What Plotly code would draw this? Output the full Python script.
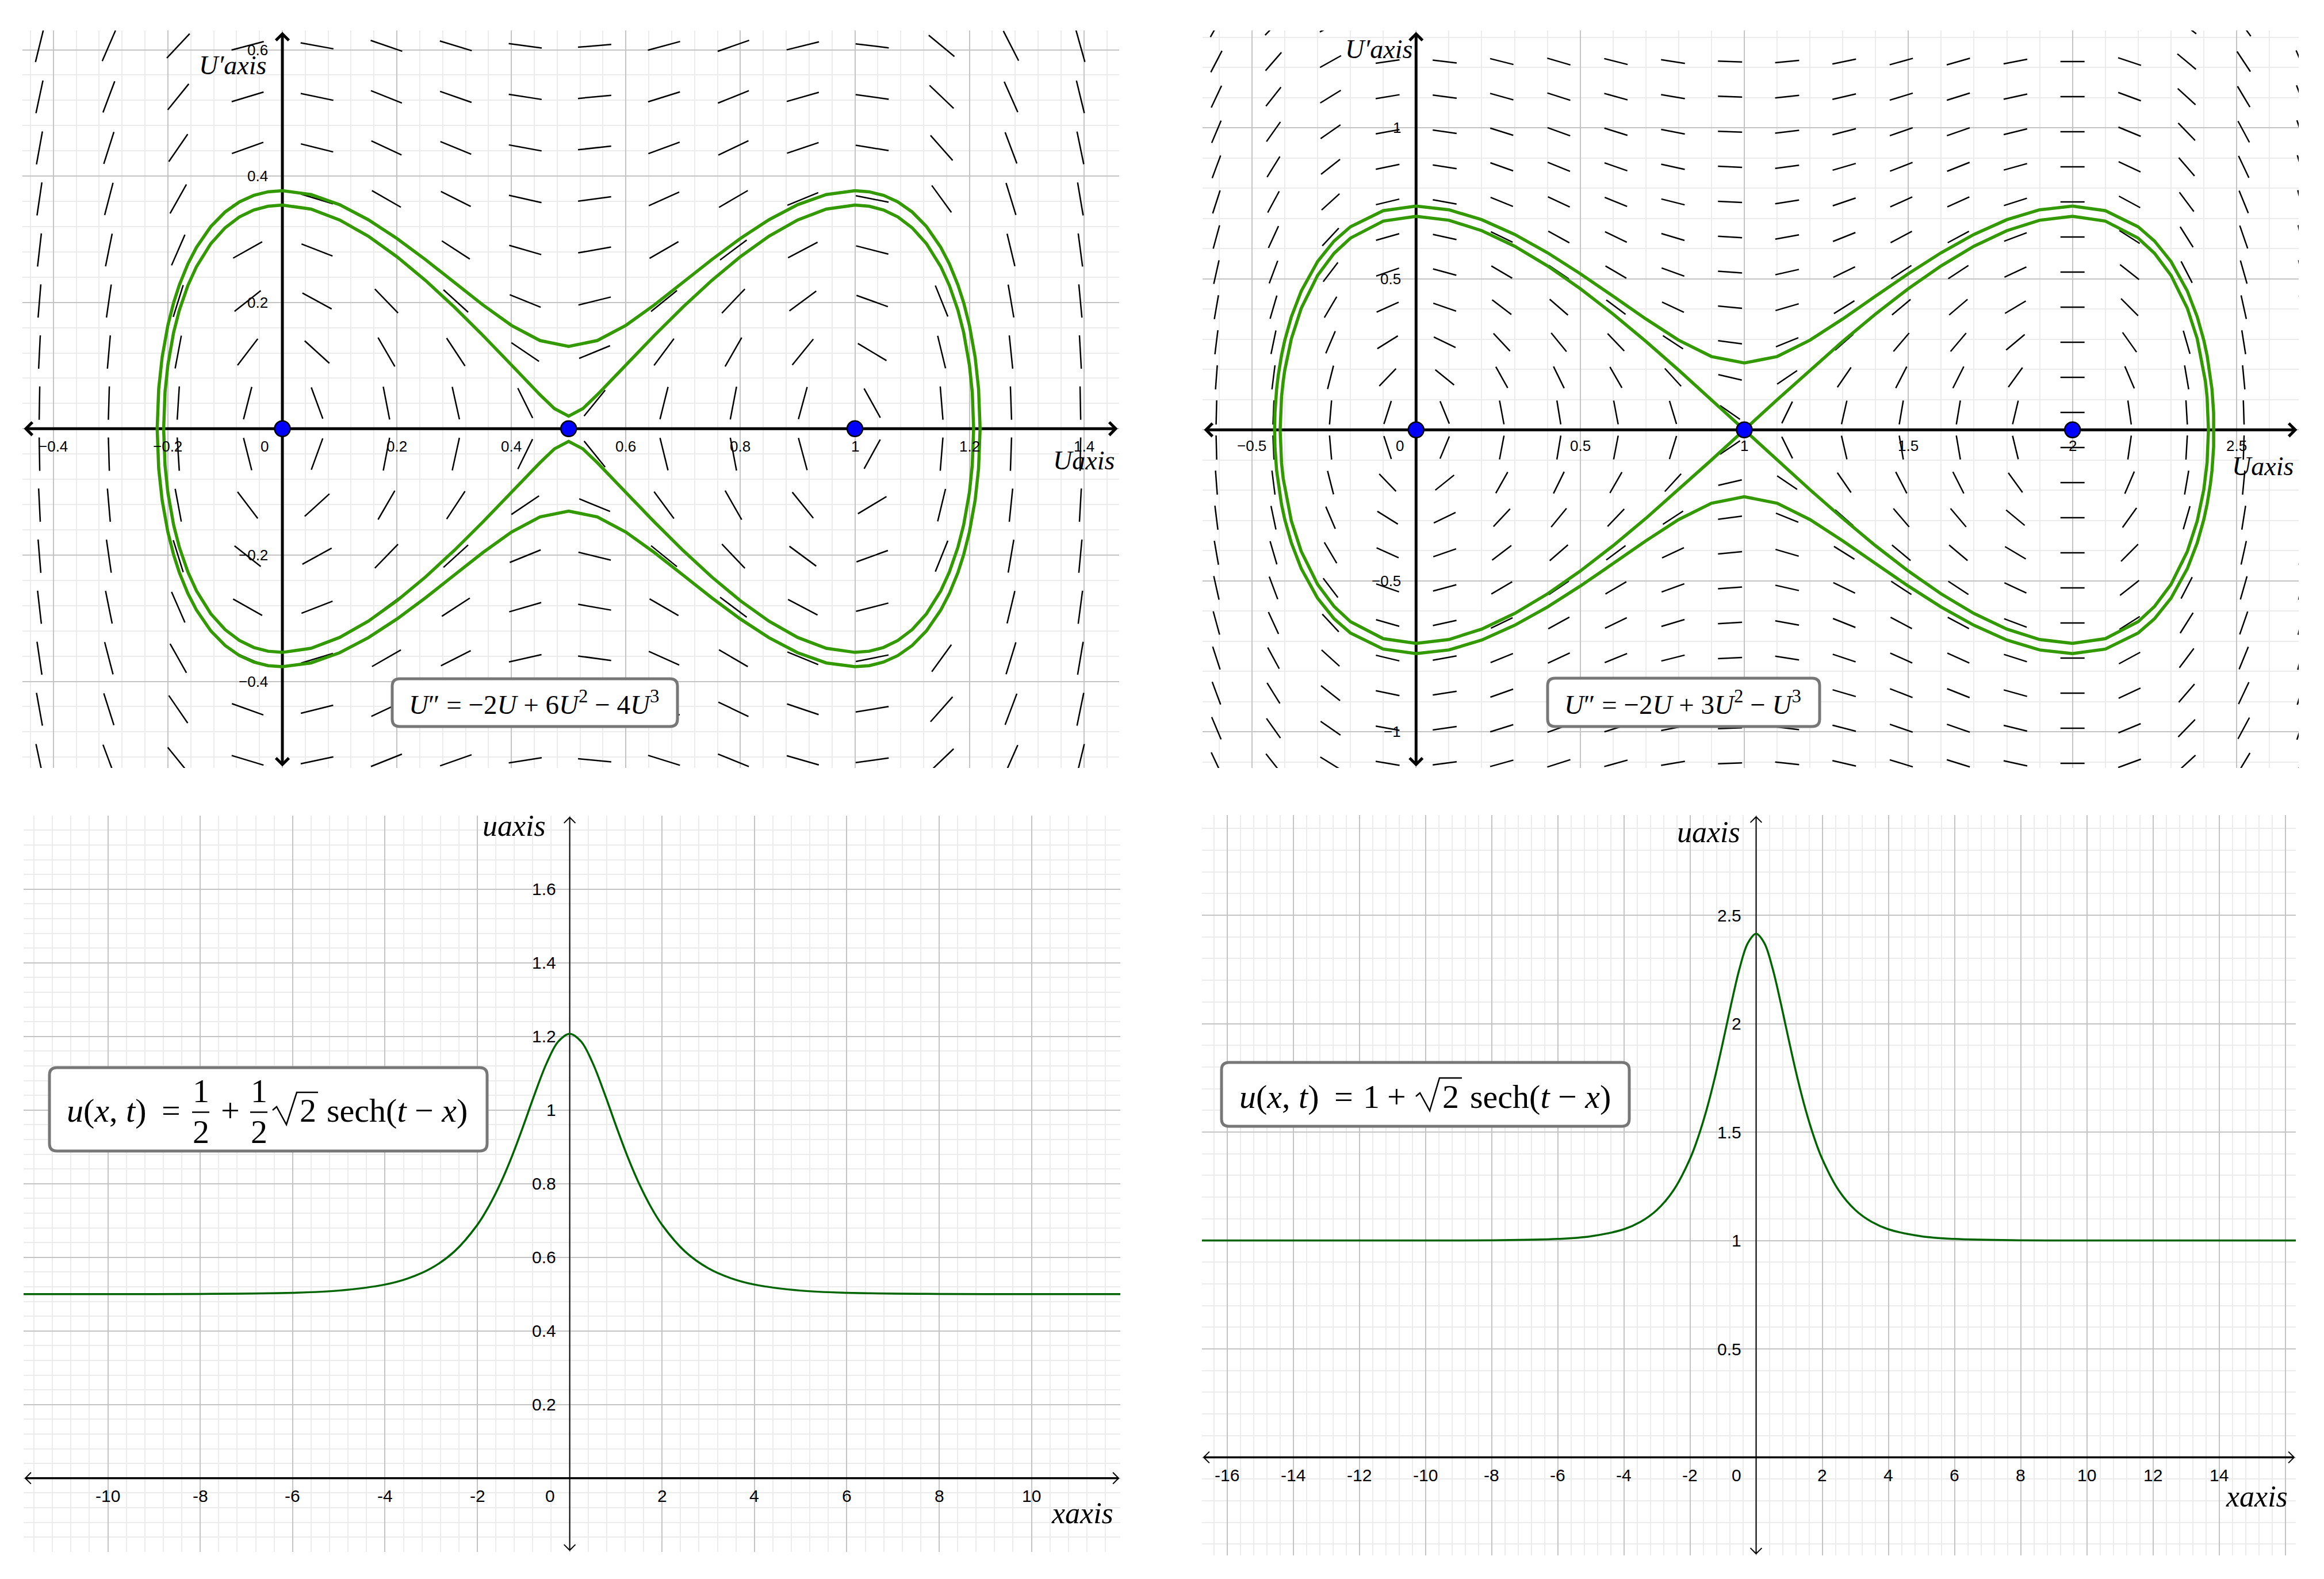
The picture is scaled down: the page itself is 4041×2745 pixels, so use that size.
import math
import plotly.graph_objects as go

W, H = 4041, 2745

# ---------------- data ----------------
# top-left phase plane, U'' = -2U + 6U^2 - 4U^3 (coefficients of U, U^2, U^3)
tl_coeffs = [-2, 6, -4]
tl_rest_u = [0, 0.5, 1]
# upper half of the left lobe (U <= 0.5); the right lobe is its mirror about U = 0.5
tl_outer_u = [-0.2187, -0.216, -0.21, -0.2, -0.19, -0.18, -0.165, -0.15, -0.125, -0.1, -0.075,
              -0.05, -0.025, 0, 0.05, 0.1, 0.15, 0.2, 0.25, 0.3, 0.35, 0.4, 0.45, 0.5]
tl_outer_v = [0, 0.0634, 0.1134, 0.1637, 0.1994, 0.2276, 0.261, 0.2872, 0.3201, 0.3432, 0.3592,
              0.3695, 0.3751, 0.3768, 0.3708, 0.3547, 0.3309, 0.3013, 0.2677, 0.2319, 0.1962,
              0.1637, 0.1396, 0.1304]
tl_inner_u = [-0.2074, -0.205, -0.2, -0.19, -0.18, -0.165, -0.15, -0.125, -0.1, -0.075, -0.05,
              -0.025, 0, 0.05, 0.1, 0.15, 0.2, 0.25, 0.3, 0.35, 0.4, 0.425, 0.45, 0.475, 0.5]
tl_inner_v = [0, 0.058, 0.101, 0.1522, 0.1876, 0.2269, 0.2567, 0.293, 0.3181, 0.3353, 0.3463,
              0.3523, 0.3541, 0.3477, 0.3305, 0.3048, 0.2724, 0.2347, 0.1929, 0.1479, 0.101,
              0.0772, 0.0537, 0.032, 0.02]

# top-right phase plane, U'' = -2U + 3U^2 - U^3
tr_coeffs = [-2, 3, -1]
tr_rest_u = [0, 1, 2]
# upper half of the left lobe (U <= 1); mirrored about U = 1
tr_outer_u = [-0.4311, -0.43, -0.425, -0.42, -0.41, -0.4, -0.38, -0.35, -0.3, -0.25, -0.2, -0.1,
              0, 0.1, 0.2, 0.3, 0.4, 0.5, 0.6, 0.7, 0.8, 0.9, 1.0]
tr_outer_v = [0, 0.0556, 0.1342, 0.1802, 0.2466, 0.297, 0.3742, 0.4591, 0.5576, 0.6251, 0.6725,
              0.7259, 0.741, 0.7287, 0.6959, 0.6473, 0.5867, 0.5174, 0.4429, 0.3674, 0.297,
              0.2428, 0.2214]
tr_sep_u = [-0.4142, -0.41, -0.405, -0.4, -0.38, -0.35, -0.3, -0.25, -0.2, -0.1, 0, 0.1, 0.2,
            0.3, 0.4, 0.5, 0.6, 0.7, 0.8, 0.9, 1.0]
tr_sep_v = [0, 0.1088, 0.1602, 0.198, 0.3017, 0.4022, 0.5118, 0.5846, 0.635, 0.6913, 0.7071,
            0.6942, 0.6597, 0.6082, 0.5433, 0.4677, 0.3837, 0.2932, 0.198, 0.0997, 0]

# bottom-left solitary wave
bl_x = [-12, -10, -8, -6, -5, -4, -3.5, -3, -2.5, -2, -1.75, -1.5, -1.25, -1, -0.75, -0.5, -0.25,
        0, 0.25, 0.5, 0.75, 1, 1.25, 1.5, 1.75, 2, 2.5, 3, 3.5, 4, 5, 6, 8, 10, 12]
bl_u = [0.5, 0.5001, 0.5005, 0.5035, 0.5095, 0.5259, 0.5427, 0.5702, 0.6153, 0.688, 0.7386,
        0.8006, 0.8744, 0.9582, 1.0462, 1.1271, 1.1856, 1.2071, 1.1856, 1.1271, 1.0462, 0.9582,
        0.8744, 0.8006, 0.7386, 0.688, 0.6153, 0.5702, 0.5427, 0.5259, 0.5095, 0.5035, 0.5005,
        0.5001, 0.5]

# bottom-right solitary wave
br_x = [-17, -12, -10, -8, -6, -5, -4, -3.5, -3, -2.5, -2, -1.75, -1.5, -1.25, -1, -0.75, -0.5,
        -0.25, 0, 0.25, 0.5, 0.75, 1, 1.25, 1.5, 1.75, 2, 2.5, 3, 3.5, 4, 5, 6, 8, 10, 12, 17]
br_u = [1.0, 1.0, 1.0001, 1.0009, 1.007, 1.0191, 1.0518, 1.0853, 1.1405, 1.2306, 1.3759, 1.4771,
        1.6012, 1.7489, 1.9165, 2.0923, 2.2542, 2.3712, 2.4142, 2.3712, 2.2542, 2.0923, 1.9165,
        1.7489, 1.6012, 1.4771, 1.3759, 1.2306, 1.1405, 1.0853, 1.0518, 1.0191, 1.007, 1.0009,
        1.0001, 1.0, 1.0]

# tick labels
tl_xticks = [-0.4, -0.2, 0.2, 0.4, 0.6, 0.8, 1, 1.2, 1.4]
tl_xlabels = ['−0.4', '−0.2', '0.2', '0.4', '0.6', '0.8', '1', '1.2', '1.4']
tl_yticks = [0.6, 0.4, 0.2, -0.2, -0.4]
tl_ylabels = ['0.6', '0.4', '0.2', '−0.2', '−0.4']
tr_xticks = [-0.5, 0.5, 1, 1.5, 2, 2.5]
tr_xlabels = ['−0.5', '0.5', '1', '1.5', '2', '2.5']
tr_yticks = [1, 0.5, -0.5, -1]
tr_ylabels = ['1', '0.5', '−0.5', '−1']
bl_xticks = [-10, -8, -6, -4, -2, 2, 4, 6, 8, 10]
bl_xlabels = ['-10', '-8', '-6', '-4', '-2', '2', '4', '6', '8', '10']
bl_yticks = [0.2, 0.4, 0.6, 0.8, 1, 1.2, 1.4, 1.6]
bl_ylabels = ['0.2', '0.4', '0.6', '0.8', '1', '1.2', '1.4', '1.6']
br_xticks = [-16, -14, -12, -10, -8, -6, -4, -2, 2, 4, 6, 8, 10, 12, 14]
br_xlabels = ['-16', '-14', '-12', '-10', '-8', '-6', '-4', '-2', '2', '4', '6', '8', '10', '12', '14']
br_yticks = [0.5, 1, 1.5, 2, 2.5]
br_ylabels = ['0.5', '1', '1.5', '2', '2.5']

# ---------------- layout of the four panels (page pixels) ----------------
panels = [
    dict(box=(31, 45, 1938, 1327), origin=(483, 737.3), unit=(995.5, 1098),
         grid=(0.2, 0.04, 0.2, 0.04)),
    dict(box=(2083, 45, 3989, 1327), origin=(2454.3, 739.3), unit=(570.7, 525),
         grid=(0.5, 0.1, 0.5, 0.1)),
    dict(box=(33, 1410, 1940, 2690), origin=(982.6, 2561.7), unit=(80.3, 640),
         grid=(2, 0.4, 0.2, 0.04)),
    dict(box=(2082, 1409, 3984, 2696), origin=(3045.5, 2525.5), unit=(57.5, 377),
         grid=(2, 0.4, 0.5, 0.1)),
]

MAJOR = '#c4c4c4'
MINOR = '#ececec'
LOOP_GREEN = '#339900'
WAVE_GREEN = '#006400'
SANS = 'Liberation Sans'
SERIF = 'Liberation Serif'

fig = go.Figure()
annotations = []
shapes = []

for i, p in enumerate(panels):
    sfx = '' if i == 0 else str(i + 1)
    x0, y0, x1, y1 = p['box']
    ox, oy = p['origin']
    ux, uy = p['unit']
    p['xr'] = [(x0 - ox) / ux, (x1 - ox) / ux]
    p['yr'] = [(oy - y1) / uy, (oy - y0) / uy]
    p['xa'], p['ya'] = 'x' + sfx, 'y' + sfx
    xmaj, xmin, ymaj, ymin = p['grid']
    common = dict(showgrid=True, gridcolor=MAJOR, gridwidth=2, tick0=0,
                  showticklabels=False, ticks='', zeroline=False, showline=False,
                  fixedrange=True)
    fig.update_layout({
        'xaxis' + sfx: dict(domain=[x0 / W, x1 / W], range=p['xr'], anchor='y' + sfx,
                            dtick=xmaj, minor=dict(dtick=xmin, tick0=0, showgrid=True,
                                                   gridcolor=MINOR, gridwidth=2), **common),
        'yaxis' + sfx: dict(domain=[1 - y1 / H, 1 - y0 / H], range=p['yr'], anchor='x' + sfx,
                            dtick=ymaj, minor=dict(dtick=ymin, tick0=0, showgrid=True,
                                                   gridcolor=MINOR, gridwidth=2), **common),
    })


def add_line(p, xs, ys, color='black', width=2.5):
    fig.add_trace(go.Scatter(x=xs, y=ys, mode='lines', xaxis=p['xa'], yaxis=p['ya'],
                             line=dict(color=color, width=width), hoverinfo='skip'))


def slope_field(p, coeffs, u0, du, ncol, v0, dv, nrow, seg):
    # short segments along (U', U'') for the equation printed in the panel
    ux, uy = p['unit']
    xs, ys = [], []
    for i in range(ncol):
        u = u0 + i * du
        g = coeffs[0] * u + coeffs[1] * u ** 2 + coeffs[2] * u ** 3
        for j in range(nrow):
            v = v0 - j * dv
            sx, sy = v * ux, g * uy
            n = math.hypot(sx, sy)
            hx = sx / n * seg / 2 / ux
            hy = sy / n * seg / 2 / uy
            xs += [u - hx, u + hx, None]
            ys += [v - hy, v + hy, None]
    add_line(p, xs, ys, width=2.5)


def chevron(p, tx, ty, dx, dy, arm, width):
    ux, uy = p['unit']
    a = arm / math.sqrt(2)
    xs, ys = [], []
    for s in (1, -1):
        bx, by = -dx - s * dy, -dy + s * dx
        xs.append(tx + a * bx / ux)
        ys.append(ty + a * by / uy)
    add_line(p, [xs[0], tx, xs[1]], [ys[0], ty, ys[1]], width=width)


def axes(p, xw, yw, arm, aw, inset):
    ux, uy = p['unit']
    xl, xh = p['xr'][0] + inset / ux, p['xr'][1] - inset / ux
    yl, yh = p['yr'][0] + inset / uy, p['yr'][1] - inset / uy
    add_line(p, [xl, xh], [0, 0], width=xw)
    add_line(p, [0, 0], [yl, yh], width=yw)
    chevron(p, xl, 0, -1, 0, arm, aw)
    chevron(p, xh, 0, 1, 0, arm, aw)
    chevron(p, 0, yl, 0, -1, arm, aw)
    chevron(p, 0, yh, 0, 1, arm, aw)


def loop(us, vs, c):
    ru = [2 * c - u for u in reversed(us[:-1])]
    rv = list(reversed(vs[:-1]))
    up_u, up_v = us + ru, vs + rv
    return up_u + list(reversed(up_u))[1:], up_v + [-v for v in reversed(up_v)][1:]


def ticks(p, xv, xt, yv, yt, size, xshift_y, yshift_x, zero_shift):
    f = dict(family=SANS, size=size, color='black')
    for v, t in zip(xv, xt):
        annotations.append(dict(x=v, y=0, xref=p['xa'], yref=p['ya'], text=t, showarrow=False,
                                yshift=xshift_y, font=f))
    annotations.append(dict(x=0, y=0, xref=p['xa'], yref=p['ya'], text='0', showarrow=False,
                            xshift=zero_shift, yshift=xshift_y, font=f))
    for v, t in zip(yv, yt):
        annotations.append(dict(x=0, y=v, xref=p['xa'], yref=p['ya'], text=t, showarrow=False,
                                xanchor='right', xshift=yshift_x, font=f))


def page_text(text, x, y, size, xanchor='center'):
    annotations.append(dict(x=x / W, y=1 - y / H, xref='paper', yref='paper', text=text,
                            showarrow=False, xanchor=xanchor, yanchor='middle',
                            font=dict(family=SERIF, size=size, color='black')))


def P(x, y):
    return f'{x / W:.6f},{1 - y / H:.6f}'


def rounded_box(x0, y0, x1, y1, r=13):
    path = (f'M{P(x0 + r, y0)} L{P(x1 - r, y0)} Q{P(x1, y0)} {P(x1, y0 + r)} '
            f'L{P(x1, y1 - r)} Q{P(x1, y1)} {P(x1 - r, y1)} L{P(x0 + r, y1)} '
            f'Q{P(x0, y1)} {P(x0, y1 - r)} L{P(x0, y0 + r)} Q{P(x0, y0)} {P(x0 + r, y0)} Z')
    shapes.append(dict(type='path', path=path, xref='paper', yref='paper', layer='above',
                       fillcolor='white', line=dict(color='#777777', width=5)))


def page_poly(pts, width=2.5):
    path = 'M' + ' L'.join(P(x, y) for x, y in pts)
    shapes.append(dict(type='path', path=path, xref='paper', yref='paper', layer='above',
                       line=dict(color='black', width=width)))


tl, tr, bl, br = panels

# ---------- top-left ----------
slope_field(tl, tl_coeffs, -0.4243, 0.12121, 16, 0.6062, 0.0808, 15, 58)
axes(tl, 5, 5, 16, 5, 6)
for us, vs in [(tl_outer_u, tl_outer_v), (tl_inner_u, tl_inner_v)]:
    lx, ly = loop(us, vs, 0.5)
    add_line(tl, lx, ly, color=LOOP_GREEN, width=5.5)
fig.add_trace(go.Scatter(x=tl_rest_u, y=[0] * len(tl_rest_u), mode='markers', xaxis='x', yaxis='y',
                         marker=dict(size=27, color='#0000ff', line=dict(color='black', width=2.5)),
                         hoverinfo='skip'))
ticks(tl, tl_xticks, tl_xlabels, tl_yticks, tl_ylabels, 26, -31, -23, -31)

# ---------- top-right ----------
slope_field(tr, tr_coeffs, -0.6084, 0.17389, 20, 1.3358, 0.11619, 22, 42)
axes(tr, 5, 5, 16, 5, 6)
for us, vs in [(tr_outer_u, tr_outer_v), (tr_sep_u, tr_sep_v)]:
    lx, ly = loop(us, vs, 1.0)
    add_line(tr, lx, ly, color=LOOP_GREEN, width=5.5)
fig.add_trace(go.Scatter(x=tr_rest_u, y=[0] * len(tr_rest_u), mode='markers', xaxis='x2', yaxis='y2',
                         marker=dict(size=27, color='#0000ff', line=dict(color='black', width=2.5)),
                         hoverinfo='skip'))
ticks(tr, tr_xticks, tr_xlabels, tr_yticks, tr_ylabels, 26, -28, -24, -28)

# ---------- bottom-left ----------
axes(bl, 3.5, 2, 14, 2, 3)
fig.add_trace(go.Scatter(x=bl_x, y=bl_u, mode='lines', xaxis='x3', yaxis='y3',
                         line=dict(color=WAVE_GREEN, width=3.5, shape='spline'), hoverinfo='skip'))
ticks(bl, bl_xticks, bl_xlabels, bl_yticks, bl_ylabels, 30, -31, -22, -34)

# ---------- bottom-right ----------
axes(br, 3.5, 2, 14, 2, 3)
fig.add_trace(go.Scatter(x=br_x, y=br_u, mode='lines', xaxis='x4', yaxis='y4',
                         line=dict(color=WAVE_GREEN, width=3.5, shape='spline'), hoverinfo='skip'))
ticks(br, br_xticks, br_xlabels, br_yticks, br_ylabels, 30, -31, -24, -34)

# ---------- axis names ----------
page_text('<i>U′axis</i>', 457, 105, 46, 'right')
page_text('<i>Uaxis</i>', 1932, 793, 46, 'right')
page_text('<i>U′axis</i>', 2450, 77, 46, 'right')
page_text('<i>Uaxis</i>', 3982, 803, 46, 'right')
page_text('<i>uaxis</i>', 943, 1427, 52, 'right')
page_text('<i>xaxis</i>', 1930, 2622, 52, 'right')
page_text('<i>uaxis</i>', 3020, 1438, 52, 'right')
page_text('<i>xaxis</i>', 3972, 2593, 52, 'right')

# ---------- equation boxes ----------
rounded_box(674, 1172, 1170, 1255)
page_text('<i>U</i>″ = −2<i>U</i> + 6<i>U</i><sup>2</sup> − 4<i>U</i><sup>3</sup>', 920, 1213, 47)

rounded_box(2683, 1171, 3156, 1255)
page_text('<i>U</i>″ = −2<i>U</i> + 3<i>U</i><sup>2</sup> − <i>U</i><sup>3</sup>', 2918, 1213, 47)

rounded_box(78, 1848, 839, 1993)
page_text('<i>u</i>(<i>x</i>, <i>t</i>)', 177, 1922, 58)
page_text('=', 289, 1922, 58)
for cx in (341, 442):
    page_text('1', cx, 1888, 58)
    page_text('2', cx, 1959, 58)
    page_poly([(cx - 15, 1925.5), (cx + 15, 1925.5)], 2.5)
page_text('+', 392, 1922, 58)
page_poly([(466, 1922), (473, 1916), (490, 1947), (508, 1891), (545, 1891)], 2.5)
page_text('2', 527, 1922, 58)
page_text('sech(<i>t</i> − <i>x</i>)', 682, 1922, 58)

rounded_box(2116, 1839, 2825, 1950)
page_text('<i>u</i>(<i>x</i>, <i>t</i>)', 2216, 1898, 58)
page_text('=', 2328, 1898, 58)
page_text('1', 2376, 1898, 58)
page_text('+', 2420, 1898, 58)
page_poly([(2454, 1898), (2461, 1892), (2478, 1923), (2495, 1866), (2534, 1866)], 2.5)
page_text('2', 2514, 1898, 58)
page_text('sech(<i>t</i> − <i>x</i>)', 2670, 1898, 58)

fig.update_layout(width=W, height=H, margin=dict(l=0, r=0, t=0, b=0),
                  paper_bgcolor='white', plot_bgcolor='white', showlegend=False,
                  hovermode=False, annotations=annotations, shapes=shapes)

fig.write_html('out.html')
